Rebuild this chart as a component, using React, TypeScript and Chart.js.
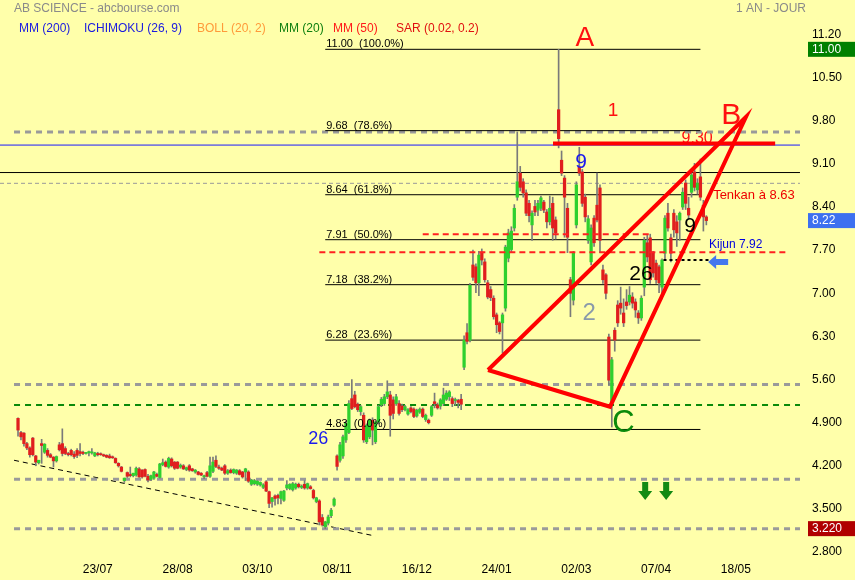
import React, { useEffect, useRef } from 'react';
import { Chart, registerables } from 'chart.js';

Chart.register(...registerables);

// ---------- DATA ----------
const opens = [
  5.01, 4.78, 4.77, 4.60, 4.53, 4.69, 4.40, 4.29, 4.60, 4.46, 4.49, 4.42, 4.38, 4.32, 4.58, 4.60, 4.52, 4.44, 4.49, 4.43,
  4.49, 4.47, 4.46, 4.44, 4.45, 4.45, 4.40, 4.44, 4.43, 4.42, 4.41, 4.40, 4.38, 4.36, 4.28, 4.22, 4.00, 4.13, 4.10, 4.08,
  4.09, 4.19, 4.17, 4.18, 4.07, 4.02, 4.04, 4.10, 4.05, 4.26, 4.30, 4.22, 4.35, 4.30, 4.30, 4.22, 4.24, 4.18, 4.24, 4.19,
  4.14, 4.14, 4.12, 4.06, 4.13, 4.07, 4.15, 4.33, 4.22, 4.20, 4.24, 4.12, 4.17, 4.13, 4.12, 4.16, 4.14, 4.14, 4.14, 3.94,
  3.95, 3.94, 3.93, 3.89, 3.98, 3.82, 3.66, 3.75, 3.76, 3.71, 3.68, 3.88, 3.87, 3.85, 3.88, 3.94, 3.89, 3.94, 3.88, 3.90,
  3.84, 3.66, 3.67, 3.40, 3.25, 3.31, 3.43, 3.60, 4.40, 4.33, 4.40, 4.66, 4.78, 5.33, 5.39, 5.24, 5.12, 5.06, 4.63, 4.71,
  4.98, 4.63, 4.95, 5.23, 5.25, 5.36, 5.39, 5.31, 5.25, 5.25, 5.21, 5.15, 5.08, 5.18, 5.16, 5.05, 5.11, 5.16, 4.99, 4.98,
  5.06, 5.28, 5.23, 5.21, 5.25, 5.32, 5.36, 5.33, 5.30, 5.30, 5.32, 5.84, 6.40, 6.28, 7.50, 7.47, 7.21, 7.71, 7.55, 7.21,
  7.10, 6.96, 6.69, 6.56, 6.56, 6.80, 7.61, 7.75, 8.10, 8.60, 8.99, 8.85, 8.67, 8.50, 8.15, 8.45, 8.39, 8.42, 8.52, 8.36,
  8.20, 8.50, 8.23, 10.02, 9.20, 8.91, 8.42, 7.26, 6.93, 8.15, 9.09, 9.01, 8.60, 7.90, 7.55, 8.26, 8.47, 8.75, 7.42, 7.34,
  6.33, 5.26, 6.44, 6.85, 6.88, 6.72, 6.90, 6.90, 6.98, 6.90, 6.72, 6.64, 7.14, 7.86, 7.94, 7.69, 7.53, 7.47, 7.14, 7.69,
  8.34, 7.94, 8.34, 8.20, 8.23, 8.44, 8.83, 8.42, 8.68, 9.01, 8.72, 8.93, 8.47, 8.28,
];
const highs = [
  5.02, 4.80, 4.78, 4.62, 4.55, 4.70, 4.41, 4.33, 4.67, 4.60, 4.52, 4.44, 4.39, 4.40, 4.62, 4.84, 4.55, 4.46, 4.51, 4.47,
  4.52, 4.60, 4.48, 4.46, 4.48, 4.52, 4.46, 4.46, 4.45, 4.43, 4.42, 4.43, 4.40, 4.37, 4.29, 4.23, 4.04, 4.14, 4.22, 4.12,
  4.22, 4.21, 4.18, 4.19, 4.10, 4.09, 4.15, 4.12, 4.28, 4.35, 4.32, 4.38, 4.37, 4.31, 4.31, 4.27, 4.26, 4.22, 4.26, 4.20,
  4.18, 4.15, 4.13, 4.09, 4.15, 4.38, 4.38, 4.40, 4.25, 4.22, 4.26, 4.18, 4.19, 4.19, 4.18, 4.18, 4.15, 4.20, 4.16, 4.02,
  4.02, 4.00, 3.98, 3.95, 4.00, 3.83, 3.73, 3.77, 3.78, 3.83, 3.84, 4.00, 3.95, 3.97, 3.96, 3.96, 3.93, 4.00, 3.96, 3.92,
  3.86, 3.73, 3.69, 3.45, 3.34, 3.44, 3.55, 3.72, 4.42, 4.62, 4.74, 4.96, 5.30, 5.64, 5.45, 5.26, 5.22, 5.10, 4.92, 5.00,
  5.02, 4.97, 5.22, 5.35, 5.40, 5.62, 5.45, 5.36, 5.40, 5.30, 5.24, 5.22, 5.17, 5.20, 5.18, 5.16, 5.18, 5.18, 5.08, 5.00,
  5.22, 5.42, 5.26, 5.33, 5.50, 5.46, 5.46, 5.36, 5.34, 5.32, 5.40, 6.35, 6.55, 7.20, 7.74, 7.52, 7.72, 7.76, 7.60, 7.25,
  7.15, 7.00, 6.72, 6.58, 6.72, 7.82, 8.08, 8.12, 8.48, 9.66, 9.10, 8.90, 8.72, 8.55, 8.38, 8.55, 8.55, 8.62, 8.55, 8.40,
  8.62, 8.60, 8.28, 11.00, 9.35, 8.95, 8.50, 7.30, 7.72, 8.85, 9.41, 9.05, 8.65, 8.30, 8.15, 8.30, 8.99, 8.80, 7.50, 7.36,
  6.38, 6.00, 6.48, 6.92, 7.14, 6.95, 7.10, 7.15, 7.05, 6.95, 6.76, 7.00, 7.95, 7.98, 8.00, 7.72, 7.58, 7.50, 7.60, 8.30,
  8.50, 8.00, 8.40, 8.30, 8.36, 8.75, 8.88, 8.60, 9.00, 9.15, 8.90, 9.22, 8.55, 8.30,
];
const lows = [
  4.72, 4.66, 4.56, 4.50, 4.38, 4.40, 4.24, 4.27, 4.28, 4.44, 4.38, 4.37, 4.22, 4.30, 4.48, 4.40, 4.42, 4.40, 4.40, 4.36,
  4.37, 4.40, 4.42, 4.43, 4.40, 4.43, 4.39, 4.40, 4.41, 4.39, 4.37, 4.36, 4.36, 4.28, 4.22, 4.14, 3.97, 4.05, 4.06, 4.06,
  4.07, 4.05, 4.04, 4.06, 3.98, 4.00, 4.02, 4.06, 4.04, 4.24, 4.22, 4.20, 4.22, 4.18, 4.19, 4.20, 4.18, 4.16, 4.15, 4.15,
  4.12, 4.09, 4.08, 4.03, 4.06, 4.05, 4.13, 4.21, 4.18, 4.16, 4.10, 4.10, 4.12, 4.11, 4.10, 4.09, 4.04, 4.00, 3.97, 3.92,
  3.93, 3.92, 3.91, 3.87, 3.82, 3.56, 3.57, 3.60, 3.62, 3.62, 3.66, 3.85, 3.85, 3.83, 3.86, 3.88, 3.87, 3.86, 3.86, 3.86,
  3.70, 3.64, 3.28, 3.26, 3.22, 3.28, 3.40, 3.58, 4.17, 4.30, 4.36, 4.62, 4.76, 5.15, 5.18, 5.12, 5.06, 4.62, 4.60, 4.68,
  4.58, 4.60, 4.92, 5.20, 5.22, 5.33, 4.72, 5.00, 5.22, 5.06, 5.12, 5.13, 5.06, 5.10, 5.02, 5.03, 5.09, 5.02, 4.96, 4.92,
  5.04, 5.18, 5.16, 5.16, 5.22, 5.30, 5.30, 5.20, 5.22, 5.18, 5.15, 5.80, 6.22, 6.25, 7.25, 7.05, 7.00, 7.50, 7.22, 6.95,
  6.92, 6.62, 6.40, 6.38, 6.07, 6.75, 7.55, 7.70, 8.05, 8.55, 8.70, 8.60, 8.30, 8.20, 7.90, 8.30, 8.30, 8.38, 8.35, 8.10,
  8.15, 7.90, 7.92, 9.40, 8.95, 7.95, 7.70, 6.66, 6.85, 8.10, 8.95, 8.45, 8.20, 7.85, 7.50, 7.80, 8.20, 7.70, 7.20, 6.95,
  5.55, 4.87, 6.10, 6.50, 6.70, 6.50, 6.78, 6.85, 6.80, 6.65, 6.55, 6.60, 7.00, 7.55, 7.20, 7.30, 7.20, 7.05, 6.95, 7.60,
  8.05, 7.55, 7.95, 7.80, 7.90, 8.40, 8.40, 8.25, 8.60, 8.70, 8.65, 8.55, 8.05, 8.15,
];
const closes = [
  4.82, 4.71, 4.60, 4.53, 4.42, 4.42, 4.30, 4.33, 4.57, 4.59, 4.41, 4.38, 4.32, 4.39, 4.50, 4.44, 4.44, 4.42, 4.42, 4.39,
  4.41, 4.44, 4.44, 4.45, 4.47, 4.46, 4.45, 4.42, 4.42, 4.40, 4.38, 4.37, 4.37, 4.29, 4.24, 4.15, 4.04, 4.07, 4.08, 4.12,
  4.20, 4.06, 4.06, 4.07, 4.01, 4.08, 4.14, 4.07, 4.27, 4.29, 4.23, 4.36, 4.24, 4.20, 4.20, 4.25, 4.19, 4.21, 4.17, 4.16,
  4.17, 4.10, 4.09, 4.08, 4.07, 4.24, 4.30, 4.23, 4.20, 4.17, 4.12, 4.16, 4.13, 4.18, 4.17, 4.10, 4.06, 4.19, 3.99, 4.01,
  4.00, 3.99, 3.97, 3.93, 3.83, 3.63, 3.72, 3.71, 3.72, 3.82, 3.83, 3.93, 3.94, 3.95, 3.94, 3.90, 3.91, 3.88, 3.95, 3.87,
  3.72, 3.72, 3.33, 3.28, 3.33, 3.41, 3.52, 3.70, 4.23, 4.58, 4.71, 4.93, 5.25, 5.17, 5.20, 5.15, 5.20, 4.66, 4.90, 4.98,
  4.82, 4.95, 5.20, 5.32, 5.36, 5.44, 5.06, 5.09, 5.36, 5.09, 5.15, 5.20, 5.15, 5.12, 5.04, 5.14, 5.16, 5.04, 5.06, 4.94,
  5.20, 5.25, 5.18, 5.31, 5.39, 5.42, 5.44, 5.25, 5.31, 5.27, 5.24, 6.28, 6.26, 7.17, 7.30, 7.21, 7.66, 7.58, 7.26, 6.98,
  6.97, 6.66, 6.53, 6.42, 6.69, 7.79, 8.02, 8.05, 8.42, 8.85, 8.76, 8.67, 8.34, 8.30, 8.34, 8.36, 8.50, 8.59, 8.39, 8.20,
  8.42, 8.10, 8.02, 9.55, 8.99, 8.60, 7.95, 7.04, 7.69, 8.80, 8.99, 8.50, 8.28, 8.25, 8.10, 7.86, 8.23, 7.90, 7.26, 7.04,
  5.63, 5.96, 6.28, 6.56, 6.80, 6.56, 6.84, 7.01, 6.88, 6.77, 6.64, 6.96, 7.90, 7.63, 7.26, 7.37, 7.26, 7.21, 7.58, 8.26,
  8.10, 7.69, 8.07, 8.02, 8.34, 8.68, 8.50, 8.31, 8.96, 8.76, 8.83, 8.60, 8.28, 8.22,
];

const xTickIndex = [27, 54, 81, 108, 135, 162, 189, 216, 243];
const xTickLabels = ['23/07', '28/08', '03/10', '08/11', '16/12', '24/01', '02/03', '07/04', '18/05'];
const yTickValues = [2.8, 3.5, 4.2, 4.9, 5.6, 6.3, 7.0, 7.7, 8.4, 9.1, 9.8, 10.5, 11.2];

const fibLevels = [11.0, 9.68, 8.64, 7.91, 7.18, 6.28, 4.83];
const fibLabels = ['11.00  (100.0%)', '9.68  (78.6%)', '8.64  (61.8%)', '7.91  (50.0%)', '7.18  (38.2%)', '6.28  (23.6%)', '4.83  (0.0%)'];
const fibRange = [104, 231];

const supportLevels = [9.66, 5.56, 4.02, 3.22];
const greenLevel = 5.227;
const thinGreyLevel = 8.825;
const blackLevel = 9.0;
const blueLevel = 9.446;
const redThickLevel = 9.471;
const redThickRange = [181.1, 256.3];
const kijunLineLevel = 7.705;
const kijunRange = [102, 261];
const tenkanLineLevel = 8.0;
const tenkanRange = [137, 214];
const dottedLevel = 7.58;
const dottedRange = [218.5, 234];

const trendX = [-1.35, 120.9];
const trendY = [4.33, 3.10];
const triangleX = [159.1, 200.4, 246.4, 159.1];
const triangleY = [5.795, 5.199, 9.901, 5.795];

const highPrice = 11.0;
const lastPrice = 8.22;
const lowPrice = 3.22;

const X_MIN = -6.1;
const X_MAX = 266.4;
const X_LEFT = -6.1;
const X_RIGHT = 264.7;
const X_START = -1.35;

const FONT = '"Liberation Sans", Arial, sans-serif';

type Note = { t: string; x: number; y: number; color: string; size: number; align?: CanvasTextAlign; under?: boolean };
const notes: Note[] = [
  { t: 'A', x: 191.9, y: 11.18, color: '#ff1010', size: 28 },
  { t: '1', x: 201.4, y: 10.0, color: '#ff1010', size: 19 },
  { t: 'B', x: 241.4, y: 9.93, color: '#ff1010', size: 30 },
  { t: '9.30', x: 229.9, y: 9.55, color: '#ff1010', size: 16, under: true },
  { t: '9', x: 190.6, y: 9.17, color: '#1a1aee', size: 21 },
  { t: '9', x: 227.5, y: 8.13, color: '#000000', size: 21 },
  { t: '26', x: 210.9, y: 7.35, color: '#000000', size: 21 },
  { t: '2', x: 193.3, y: 6.72, color: '#8a9aaa', size: 24 },
  { t: 'C', x: 204.9, y: 4.93, color: '#0a8a0a', size: 31 },
  { t: '26', x: 101.6, y: 4.675, color: '#1a1aee', size: 18 },
  { t: 'Tenkan à 8.63', x: 235.3, y: 8.635, color: '#ee0000', size: 13, align: 'left' },
  { t: 'Kijun 7.92', x: 233.9, y: 7.823, color: '#0000dd', size: 12, align: 'left' },
];
const blueArrow = { x: 237, y: 7.547 };
const greenArrows = [{ x: 212.3, y: 3.83 }, { x: 219.4, y: 3.83 }];

const legendItems = [
  { t: 'MM (200)', x: 19, color: '#1a1ae0' },
  { t: 'ICHIMOKU (26, 9)', x: 84, color: '#1a1ae0' },
  { t: 'BOLL (20, 2)', x: 197, color: '#ff9a3a' },
  { t: 'MM (20)', x: 279, color: '#108010' },
  { t: 'MM (50)', x: 333, color: '#ff1a1a' },
  { t: 'SAR (0.02, 0.2)', x: 396, color: '#e01010' },
];

// ---------- HELPERS ----------
function hline(x0: number, x1: number, v: number, color: string, width: number, dash: number[], order: number) {
  return {
    type: 'line' as const,
    data: [{ x: x0, y: v }, { x: x1, y: v }],
    borderColor: color,
    borderWidth: width,
    borderDash: dash,
    pointRadius: 0,
    fill: false,
    tension: 0,
    order,
  };
}

const overlayPlugin = {
  id: 'overlayPlugin',
  beforeDraw(chart: any) {
    const c = chart.ctx;
    c.save();
    c.fillStyle = '#ffffaa';
    c.fillRect(0, 0, chart.width, chart.height);
    c.restore();
  },
  beforeDatasetsDraw(chart: any) {
    const c = chart.ctx;
    const xs = chart.scales.x, ys = chart.scales.y;
    c.save();
    notes.filter(n => n.under).forEach(n => {
      c.font = `${n.size}px ${FONT}`;
      c.fillStyle = n.color;
      c.textAlign = n.align || 'center';
      c.textBaseline = 'middle';
      c.fillText(n.t, xs.getPixelForValue(n.x), ys.getPixelForValue(n.y));
    });
    c.restore();
  },
  afterDatasetsDraw(chart: any) {
    const c = chart.ctx;
    const xs = chart.scales.x, ys = chart.scales.y;
    c.save();
    c.font = `11px ${FONT}`;
    c.fillStyle = '#000';
    c.textAlign = 'left';
    c.textBaseline = 'alphabetic';
    fibLevels.forEach((lv, k) => {
      c.fillText(fibLabels[k], xs.getPixelForValue(fibRange[0]) + 1, ys.getPixelForValue(lv) - 2);
    });
    notes.filter(n => !n.under).forEach(n => {
      c.font = `${n.size}px ${FONT}`;
      c.fillStyle = n.color;
      c.textAlign = n.align || 'center';
      c.textBaseline = 'middle';
      c.fillText(n.t, xs.getPixelForValue(n.x), ys.getPixelForValue(n.y));
    });
    {
      const x = xs.getPixelForValue(blueArrow.x), y = ys.getPixelForValue(blueArrow.y);
      c.fillStyle = '#4477ee';
      c.beginPath();
      c.moveTo(x - 10, y);
      c.lineTo(x - 2, y - 7);
      c.lineTo(x - 2, y - 3);
      c.lineTo(x + 10, y - 3);
      c.lineTo(x + 10, y + 3);
      c.lineTo(x - 2, y + 3);
      c.lineTo(x - 2, y + 7);
      c.closePath();
      c.fill();
    }
    greenArrows.forEach(a => {
      const x = xs.getPixelForValue(a.x), y = ys.getPixelForValue(a.y);
      c.fillStyle = '#138a13';
      c.beginPath();
      c.moveTo(x - 3, y - 9);
      c.lineTo(x + 3, y - 9);
      c.lineTo(x + 3, y);
      c.lineTo(x + 7, y);
      c.lineTo(x, y + 9);
      c.lineTo(x - 7, y);
      c.lineTo(x - 3, y);
      c.closePath();
      c.fill();
    });
    c.restore();
  },
  afterDraw(chart: any) {
    const c = chart.ctx;
    const ys = chart.scales.y;
    const area = chart.chartArea;
    c.save();
    c.font = `12px ${FONT}`;
    c.textBaseline = 'middle';
    c.fillStyle = '#8a8a8a';
    c.textAlign = 'left';
    c.fillText('AB SCIENCE - abcbourse.com', 14, 8.5);
    c.textAlign = 'right';
    c.fillText('1 AN - JOUR', 806, 8.5);
    c.textAlign = 'left';
    legendItems.forEach(l => {
      c.fillStyle = l.color;
      c.fillText(l.t, l.x, 29);
    });
    const boxes = [
      { v: highPrice, label: highPrice.toFixed(2), bg: '#008000' },
      { v: lastPrice, label: lastPrice.toFixed(2), bg: '#3d70f0' },
      { v: lowPrice, label: lowPrice.toFixed(3), bg: '#b00000' },
    ];
    boxes.forEach(b => {
      const y = ys.getPixelForValue(b.v);
      c.fillStyle = b.bg;
      c.fillRect(area.right + 3, y - 7.5, chart.width - area.right - 3, 15);
      c.fillStyle = '#ffffff';
      c.font = `12px ${FONT}`;
      c.textAlign = 'left';
      c.textBaseline = 'middle';
      c.fillText(b.label, area.right + 7, y + 0.5);
    });
    c.restore();
  },
};

export default function App() {
  const ref = useRef<HTMLCanvasElement | null>(null);

  useEffect(() => {
    if (!ref.current) return;
    const idx = opens.map((_, i) => i);
    const up = (i: number) => closes[i] >= opens[i];

    const datasets: any[] = [
      ...fibLevels.map(lv => hline(fibRange[0], fibRange[1], lv, '#000000', 1, [], 20)),
      hline(X_LEFT, X_RIGHT, blackLevel, '#000000', 1, [], 20),
      hline(X_LEFT, X_RIGHT, blueLevel, '#1a1aff', 1, [], 20),
      hline(X_LEFT, X_RIGHT, thinGreyLevel, '#9a9a9a', 1, [4, 3], 20),
      ...supportLevels.map(lv => hline(X_START, X_RIGHT, lv, '#9a9a9a', 3, [6, 5], 20)),
      hline(X_START, X_RIGHT, greenLevel, '#0a8a0a', 2, [6, 5], 20),
      {
        type: 'line',
        data: trendX.map((x, k) => ({ x, y: trendY[k] })),
        borderColor: '#000000',
        borderWidth: 1,
        borderDash: [5, 4],
        pointRadius: 0,
        fill: false,
        order: 20,
      },
      {
        type: 'bar',
        data: idx.map(i => ({ x: i, y: [lows[i], highs[i]] })),
        backgroundColor: '#7a7a7a',
        barThickness: 1,
        grouped: false,
        order: 6,
      },
      {
        type: 'bar',
        data: idx.map(i => ({ x: i, y: [opens[i], closes[i]] })),
        backgroundColor: idx.map(i => (up(i) ? '#2ed02e' : '#e01e1e')),
        barThickness: 2.6,
        minBarLength: 1,
        grouped: false,
        order: 5,
      },
      hline(kijunRange[0], kijunRange[1], kijunLineLevel, '#ff2020', 2, [6, 4], 2),
      hline(tenkanRange[0], tenkanRange[1], tenkanLineLevel, '#ff2020', 2, [6, 4], 2),
      hline(dottedRange[0], dottedRange[1], dottedLevel, '#000000', 2, [3, 3], 2),
      hline(redThickRange[0], redThickRange[1], redThickLevel, '#ff0000', 4, [], 1),
      {
        type: 'line',
        data: triangleX.map((x, k) => ({ x, y: triangleY[k] })),
        borderColor: '#ff0000',
        borderWidth: 4,
        pointRadius: 0,
        fill: false,
        tension: 0,
        order: 1,
      },
    ];

    const chart = new Chart(ref.current, {
      type: 'bar',
      data: { datasets },
      options: {
        responsive: false,
        animation: false,
        events: [],
        layout: { padding: { top: 20, left: 0, right: 0, bottom: 0 } },
        plugins: { legend: { display: false }, tooltip: { enabled: false } },
        scales: {
          x: {
            type: 'linear',
            min: X_MIN,
            max: X_MAX,
            offset: false,
            bounds: 'data',
            grid: { display: false, drawTicks: false, offset: false },
            border: { display: false },
            afterBuildTicks: (s: any) => {
              s.ticks = xTickIndex.map(v => ({ value: v }));
            },
            afterFit: (s: any) => {
              s.height = 24;
              s.paddingLeft = 0;
              s.paddingRight = 0;
            },
            ticks: {
              autoSkip: false,
              maxRotation: 0,
              padding: 6,
              color: '#000000',
              font: { size: 12, family: FONT },
              callback: (_v: any, i: number) => xTickLabels[i],
            },
          },
          y: {
            type: 'linear',
            position: 'right',
            min: 2.776,
            max: 11.476,
            offset: false,
            bounds: 'data',
            grid: { display: false, drawTicks: false },
            border: { display: false },
            afterBuildTicks: (s: any) => {
              s.ticks = yTickValues.map(v => ({ value: v }));
            },
            afterFit: (s: any) => {
              s.width = 50;
              s.paddingTop = 0;
              s.paddingBottom = 0;
            },
            ticks: {
              autoSkip: false,
              padding: 7,
              labelOffset: -2.5,
              color: '#000000',
              font: { size: 12, family: FONT },
              callback: (v: any) => (Number(v) < 5 ? Number(v).toFixed(3) : Number(v).toFixed(2)),
            },
          },
        },
      } as any,
      plugins: [overlayPlugin],
    });
    return () => chart.destroy();
  }, []);

  return (
    <div style={{ position: 'fixed', left: 0, top: 0, width: 855, height: 580 }}>
      <canvas ref={ref} width={855} height={580} style={{ display: 'block' }} />
    </div>
  );
}
